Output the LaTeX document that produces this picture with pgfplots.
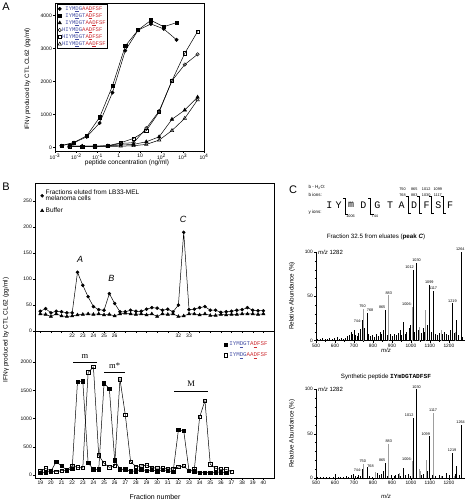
\documentclass[border=0pt]{standalone}
\usepackage{pgfplots}
\pgfplotsset{compat=1.18}
\usepackage{fontspec}
\setmainfont{Liberation Sans}
\setmonofont{Liberation Mono}
\newfontfamily\serifm{Liberation Serif}
\definecolor{pblue}{RGB}{70,80,165}
\definecolor{pred}{RGB}{205,45,50}
\definecolor{pkg}{gray}{0.62}
\newcommand{\pb}[1]{\textcolor{pblue}{#1}}
\newcommand{\pr}[1]{\textcolor{pred}{#1}}
\newcommand{\fs}[1]{\fontsize{#1}{#1}\selectfont}
\tikzset{pl/.style={font=\fs{3.8}, inner sep=0.3pt}}
\pgfplotsset{
  base/.style={scale only axis, anchor=south west, tick pos=left, tick align=outside,
    major tick length=2pt, minor tick length=1.2pt,
    every tick/.style={black, line width=0.4pt},
    axis line style={line width=0.5pt},
    /pgf/number format/assume math mode=true,
    /pgf/number format/1000 sep={},
    scaled ticks=false,
    tick label style={font=\fs{5}},
    xticklabel style={inner sep=1pt}, yticklabel style={inner sep=1pt},
    legend image code/.code={\draw[##1] plot coordinates {(0.08cm,0cm)};},
  },
  spec/.style={base, width=149pt, xmin=500, xmax=1285, ymin=0, ymax=100,
    axis x line*=bottom, axis y line*=left, clip=false,
    xtick={500,600,...,1200}, ytick={0,50,100}, minor y tick num=4, minor x tick num=1,
    tick label style={font=\fs{4.8}}},
  dk/.style={ycomb, black, line width=0.55pt, no marks},
  gr/.style={ycomb, pkg, line width=0.55pt, no marks},
}
\begin{document}
\begin{tikzpicture}[x=1pt,y=1pt]
\path[use as bounding box] (0,0) rectangle (466,500);
% ---------------- Panel A ----------------
\node[font=\fs{11}] at (6,493) {A};
\node[font=\fs{6.3}, rotate=90] at (27.5,421) {IFNγ produced by CTL CL62 (pg/ml)};
\node[font=\fs{6.5}] at (127,337) {peptide concentration (ng/ml)};
\begin{axis}[base, at={(55pt,349pt)}, width=149pt, height=148pt,
  xmode=log, xmin=1e-3, xmax=1e4, ymin=-100, ymax=4385,
  ytick={0,1000,2000,3000,4000},
  xtick={1e-3,1e-2,1e-1,1,10,100,1000,10000},
  xticklabels={10\textsuperscript{-3},10\textsuperscript{-2},10\textsuperscript{-1},1,10,10\textsuperscript{2},10\textsuperscript{3},10\textsuperscript{4}},
  legend style={at={(0.012,0.99)}, anchor=north west, draw=black, line width=0.4pt,
    font=\ttfamily\fs{5.6}, inner sep=1pt, row sep=0.6pt, nodes={inner sep=0.6pt}},
  legend cell align=left,
  every axis plot/.append style={black, line width=0.5pt, mark size=1.7pt},
]
\addplot[mark=*] coordinates {(0.002,60)(0.0078,150)(0.031,330)(0.125,750)(0.5,1670)(2,2940)(8,3560)(32,3750)(128,3600)(512,3270)};
\addlegendentry{\phantom{H}\pb{IYM\underline{D}G}\pr{AA\underline{D}FSF}}
\addplot[mark=square*, mark size=1.6pt] coordinates {(0.002,60)(0.0078,160)(0.031,360)(0.125,920)(0.5,1870)(2,3080)(8,3565)(32,3860)(128,3665)(512,3790)};
\addlegendentry{\phantom{H}\pb{IYM\underline{D}GT}\pr{A\underline{D}FSF}}
\addplot[mark=triangle*, mark size=2pt] coordinates {(0.0048,55)(0.019,45)(0.076,45)(0.305,55)(1.22,80)(4.9,100)(19.5,180)(78,330)(312,860)(1250,1140)(5000,1530)};
\addlegendentry{\phantom{H}\pb{IYM\underline{D}GT}\pr{AA\underline{D}FSF}}
\addplot[mark=o, mark options={fill=white}] coordinates {(0.0048,50)(0.019,45)(0.076,45)(0.305,50)(1.22,130)(4.9,150)(19.5,590)(78,1110)(312,2030)(1250,2520)(5000,2830)};
\addlegendentry{\pb{HIYM\underline{D}G}\pr{AA\underline{D}FSF}}
\addplot[mark=square, mark size=1.6pt, mark options={fill=white}] coordinates {(0.0048,45)(0.019,40)(0.076,45)(0.305,60)(1.22,150)(4.9,280)(19.5,520)(78,1080)(312,2030)(1250,2860)(5000,3520)};
\addlegendentry{\pb{HIYM\underline{D}GT}\pr{A\underline{D}FSF}}
\addplot[mark=triangle, mark size=2pt, mark options={fill=white}] coordinates {(0.0048,40)(0.019,35)(0.076,35)(0.305,40)(1.22,45)(4.9,60)(19.5,100)(78,230)(312,520)(1250,890)(5000,1450)};
\addlegendentry{\pb{HIYM\underline{D}GT}\pr{AA\underline{D}FSF}}
\end{axis}
% ---------------- Panel B ----------------
\node[font=\fs{11}] at (6,313) {B};
\node[font=\fs{6.5}, rotate=90] at (6,170) {IFNγ produced by CTL CL62 (pg/ml)};
\node[font=\fs{7}] at (155,3.5) {Fraction number};
\begin{axis}[base, at={(35pt,169pt)}, width=239pt, height=148pt,
  xmin=18.5, xmax=41, ymin=0, ymax=285,
  ytick={0,50,...,250},
  xtick={19,...,40},
  xticklabels={,,,22,23,24,25,26,,,,,,32,33,,,,,,,},
  legend style={at={(0.01,0.985)}, anchor=north west, draw=none, fill=none,
    font=\fs{6.5}, cells={align=left}, row sep=1.5pt},
  legend cell align=left,
  every axis plot/.append style={black, line width=0.5pt},
]
\addplot[mark=*, mark size=1.5pt] coordinates {(19,38)(19.5,43)(20,35)(20.5,38)(21,37)(21.5,35)(22,35)(22.5,113)(23,88)(23.5,66)(24,47)(24.5,41)(25,40)(25.5,72)(26,53)(26.5,37)(27,37)(27.5,40)(28,38)(28.5,38)(29,42)(29.5,45)(30,44)(30.5,40)(31,42)(31.5,37)(32,50)(32.5,190)(33,41)(33.5,42)(34,45)(34.5,47)(35,40)(35.5,40)(36,36)(36.5,37)(37,38)(37.5,40)(38,41)(38.5,45)(39,40)(39.5,39)(40,39)};
\addlegendentry{Fractions eluted from LB33-MEL\\melanoma cells}
\addplot[mark=triangle*, mark size=1.8pt] coordinates {(19,33)(19.5,32)(20,28)(20.5,33)(21,29)(21.5,28)(22,29)(22.5,31)(23,32)(23.5,33)(24,32)(24.5,33)(25,31)(25.5,32)(26,29)(26.5,33)(27,34)(27.5,33)(28,32)(28.5,33)(29,31)(29.5,33)(30,28)(30.5,33)(31,32)(31.5,33)(32,28)(32.5,29)(33,33)(33.5,33)(34,31)(34.5,33)(35,30)(35.5,30)(36,32)(36.5,31)(37,32)(37.5,32)(38,33)(38.5,33)(39,33)(39.5,32)(40,33)};
\addlegendentry{Buffer}
\node[font=\fs{9}\itshape] at (axis cs:22.75,138) {A};
\node[font=\fs{9}\itshape] at (axis cs:25.7,102) {B};
\node[font=\fs{9}\itshape] at (axis cs:32.45,214) {C};
\end{axis}
\begin{axis}[base, at={(35pt,22pt)}, width=239pt, height=147pt,
  xmin=18.5, xmax=41, ymin=-53, ymax=2553,
  ytick={0,500,...,2000},
  xtick={19,...,40}, minor x tick num=1,
  legend style={at={(0.995,0.955)}, anchor=north east, draw=none, fill=none,
    font=\ttfamily\fs{5.8}, row sep=1.5pt},
  legend cell align=left,
  every axis plot/.append style={black, line width=0.5pt, mark size=1.7pt},
]
\addplot[mark=square*] coordinates {(19,35)(19.5,45)(20,70)(20.5,235)(21,160)(21.5,85)(22,110)(22.5,1650)(23,1660)(23.5,215)(24,100)(24.5,100)(25,1625)(25.5,1530)(26,265)(26.5,100)(27,100)(27.5,70)(28,70)(28.5,100)(29,75)(29.5,90)(30,70)(30.5,90)(31,80)(31.5,55)(32,798)(32.5,786)(33,75)(33.5,70)(34,42)(34.5,42)(35,45)(35.5,50)(36,50)(36.5,45)};
\addlegendentry{\pb{IYM\underline{D}GT}\pr{A\underline{D}FSF}}
\addplot[mark=square, mark options={fill=white}] coordinates {(19,71)(19.5,118)(20,71)(20.5,59)(21,77)(21.5,89)(22,165)(22.5,136)(23,124)(23.5,1820)(24,1915)(24.5,349)(25,207)(25.5,136)(26,165)(26.5,1697)(27,1069)(27.5,236)(28,150)(28.5,160)(29,175)(29.5,130)(30,120)(30.5,120)(31,110)(31.5,106)(32,142)(32.5,160)(33,71)(33.5,100)(34,1028)(34.5,1318)(35,190)(35.5,118)(36,100)(36.5,100)(37,57)};
\addlegendentry{\pb{IYM\underline{D}G}\pr{AA\underline{D}FSF}}
\draw[line width=0.5pt] (axis cs:22.1,2000) -- (axis cs:24.3,2000);
\draw[line width=0.5pt] (axis cs:25.0,1820) -- (axis cs:27.0,1820);
\draw[line width=0.5pt] (axis cs:31.6,1490) -- (axis cs:34.75,1490);
\node[font=\serifm\fs{8.5}, anchor=south] at (axis cs:23.2,2010) {m};
\node[font=\serifm\fs{8.5}, anchor=south] at (axis cs:26.0,1830) {m*};
\node[font=\serifm\fs{8.5}, anchor=south] at (axis cs:33.2,1500) {M};
\end{axis}
% ---------------- Panel C ----------------
\node[font=\fs{11}] at (293,310) {C};
\node[font=\fs{4.5}, anchor=west] at (305,312.3) {b - H\textsubscript{2}O:};
\node[font=\fs{4.5}, anchor=west] at (305,305) {b ions:};
\node[font=\fs{4.5}, anchor=west] at (305,288) {y ions:};
\foreach \x/\l in {329.3/I,338.7/Y,351/m,363.3/D,377.3/G,390/T,401.7/A,414/D,426.7/F,438.3/S,450/F}
  \node[font=\ttfamily\fs{10}] at (\x,295) {\l};
\foreach \x/\t in {345.3/1006,370.7/744} {
  \draw[line width=0.45pt] (\x-2.5,302) -- (\x,302) -- (\x,286) -- (\x+3,286);
  \node[font=\fs{3.8}, anchor=north west, inner sep=0.3pt] at (\x+0.5,285.3) {\t};
}
\foreach \x/\a/\b in {408/750/768,419.7/865/883,431.7/1012/1030,443.3/1099/1117} {
  \draw[line width=0.45pt] (\x-2.5,303.5) -- (\x,303.5) -- (\x,287) -- (\x+2.5,287);
  \node[font=\fs{3.8}, inner sep=0.3pt] at (\x-5.5,311) {\a};
  \node[font=\fs{3.8}, inner sep=0.3pt] at (\x-5.5,304.8) {\b};
}
% spectrum 1
\node[font=\fs{6.2}] at (376,263) {Fraction 32.5 from eluates (\textbf{peak \textit{C}})};
\node[font=\fs{6.3}, rotate=90] at (292,204) {Relative Abundance (\%)};
\node[font=\fs{6}\itshape] at (386,150) {m/z};
\begin{axis}[spec, at={(316pt,159.3pt)}, height=88.7pt]
\addplot[dk] coordinates {(505,2)(520,1.5)(535,3)(548,2)(560,1.5)(572,2.5)(585,2)(597,3)(610,4)(622,2)(634,3)(646,2)(655,3)(665,5)(676,6)(684,10)(693,8)(700,12)(708,6)(716,5)(724,9)(732,13)(744,23)(756,14)(768,31)(776,7)(785,5)(795,6)(806,4)(818,8)(826,5)(836,10)(846,7)(855,12)(865,35)(873,6)(893,8)(903,5)(912,7)(922,6)(932,9)(944,12)(951,6)(960,21)(970,8)(978,10)(990,14)(998,18)(1012,80)(1020,10)(1030,88)(1040,12)(1052,9)(1063,14)(1070,10)(1088,18)(1099,63)(1108,10)(1117,56)(1128,8)(1140,6)(1152,9)(1165,7)(1176,10)(1186,8)(1198,6)(1210,12)(1219,42)(1228,9)(1240,23)(1250,6)(1264,100)(1272,4)};
\addplot[gr] coordinates {(750,36)(883,51)(1006,38)(1046,15)(1076,35)(1160,12)(1233,10)};
\node[pl, anchor=south] at (axis cs:1260,101) {1264};
\node[pl, anchor=south] at (axis cs:1030,89) {1030};
\node[pl, anchor=south east] at (axis cs:1018,81) {1012};
\node[pl, anchor=south] at (axis cs:1097,64) {1099};
\node[pl, anchor=south] at (axis cs:1117,57) {1117};
\node[pl, anchor=south] at (axis cs:1219,43) {1219};
\node[pl, anchor=south] at (axis cs:883,52) {883};
\node[pl, anchor=south east] at (axis cs:868,36) {865};
\node[pl, anchor=south east] at (axis cs:1008,39) {1006-};
\node[pl, anchor=south] at (axis cs:745,37) {750};
\node[pl, anchor=south west] at (axis cs:766,32) {768};
\node[pl, anchor=east] at (axis cs:742,22) {744-};
\node[font=\fs{6}, anchor=west, inner sep=0.5pt] at (axis cs:508,100) {\textit{m/z} 1282};
\end{axis}
% spectrum 2
\node[font=\fs{6.2}] at (386,123.3) {Synthetic peptide \texttt{\textbf{IYmDGTADFSF}}};
\node[font=\fs{6.3}, rotate=90] at (292,66.3) {Relative Abundance (\%)};
\node[font=\fs{6}\itshape] at (386,3.3) {m/z};
\begin{axis}[spec, at={(316pt,21.7pt)}, height=89pt]
\addplot[dk] coordinates {(505,1)(520,1.5)(540,1)(555,2)(570,1)(590,1.5)(604,5)(615,2)(630,1.5)(645,2)(660,3)(672,2)(686,4)(698,5)(705,3)(715,2)(725,4)(735,3)(744,10)(768,13)(780,3)(795,2)(810,3)(822,6)(834,4)(846,5)(856,8)(865,17)(875,3)(895,4)(910,3)(920,4)(932,5)(945,3)(960,12)(972,4)(985,5)(995,3)(1012,68)(1030,100)(1052,4)(1064,5)(1088,8)(1099,47)(1110,4)(1130,3)(1150,4)(1165,3)(1185,6)(1200,4)(1219,28)(1232,5)(1240,14)(1255,4)(1264,60)};
\addplot[gr] coordinates {(750,16)(883,39)(1006,19)(1044,11)(1050,8)(1080,20)(1117,73)(1160,3)(1228,3)(812,7)(940,6)};
\node[pl, anchor=south] at (axis cs:1030,100.5) {1030};
\node[pl, anchor=south east] at (axis cs:1016,69) {1012};
\node[pl, anchor=south] at (axis cs:1117,74) {1117};
\node[pl, anchor=south] at (axis cs:1262,61) {1264};
\node[pl, anchor=south east] at (axis cs:1103,48) {1099};
\node[pl, anchor=south] at (axis cs:1217,29) {1219};
\node[pl, anchor=south] at (axis cs:883,40) {883};
\node[pl, anchor=south east] at (axis cs:868,18) {865};
\node[pl, anchor=south east] at (axis cs:1008,19) {1006-};
\node[pl, anchor=south] at (axis cs:746,17) {750};
\node[pl, anchor=south west] at (axis cs:768,12) {768};
\node[pl, anchor=east] at (axis cs:742,9) {744-};
\node[font=\fs{6}, anchor=west, inner sep=0.5pt] at (axis cs:508,100) {\textit{m/z} 1282};
\end{axis}
\end{tikzpicture}
\end{document}
